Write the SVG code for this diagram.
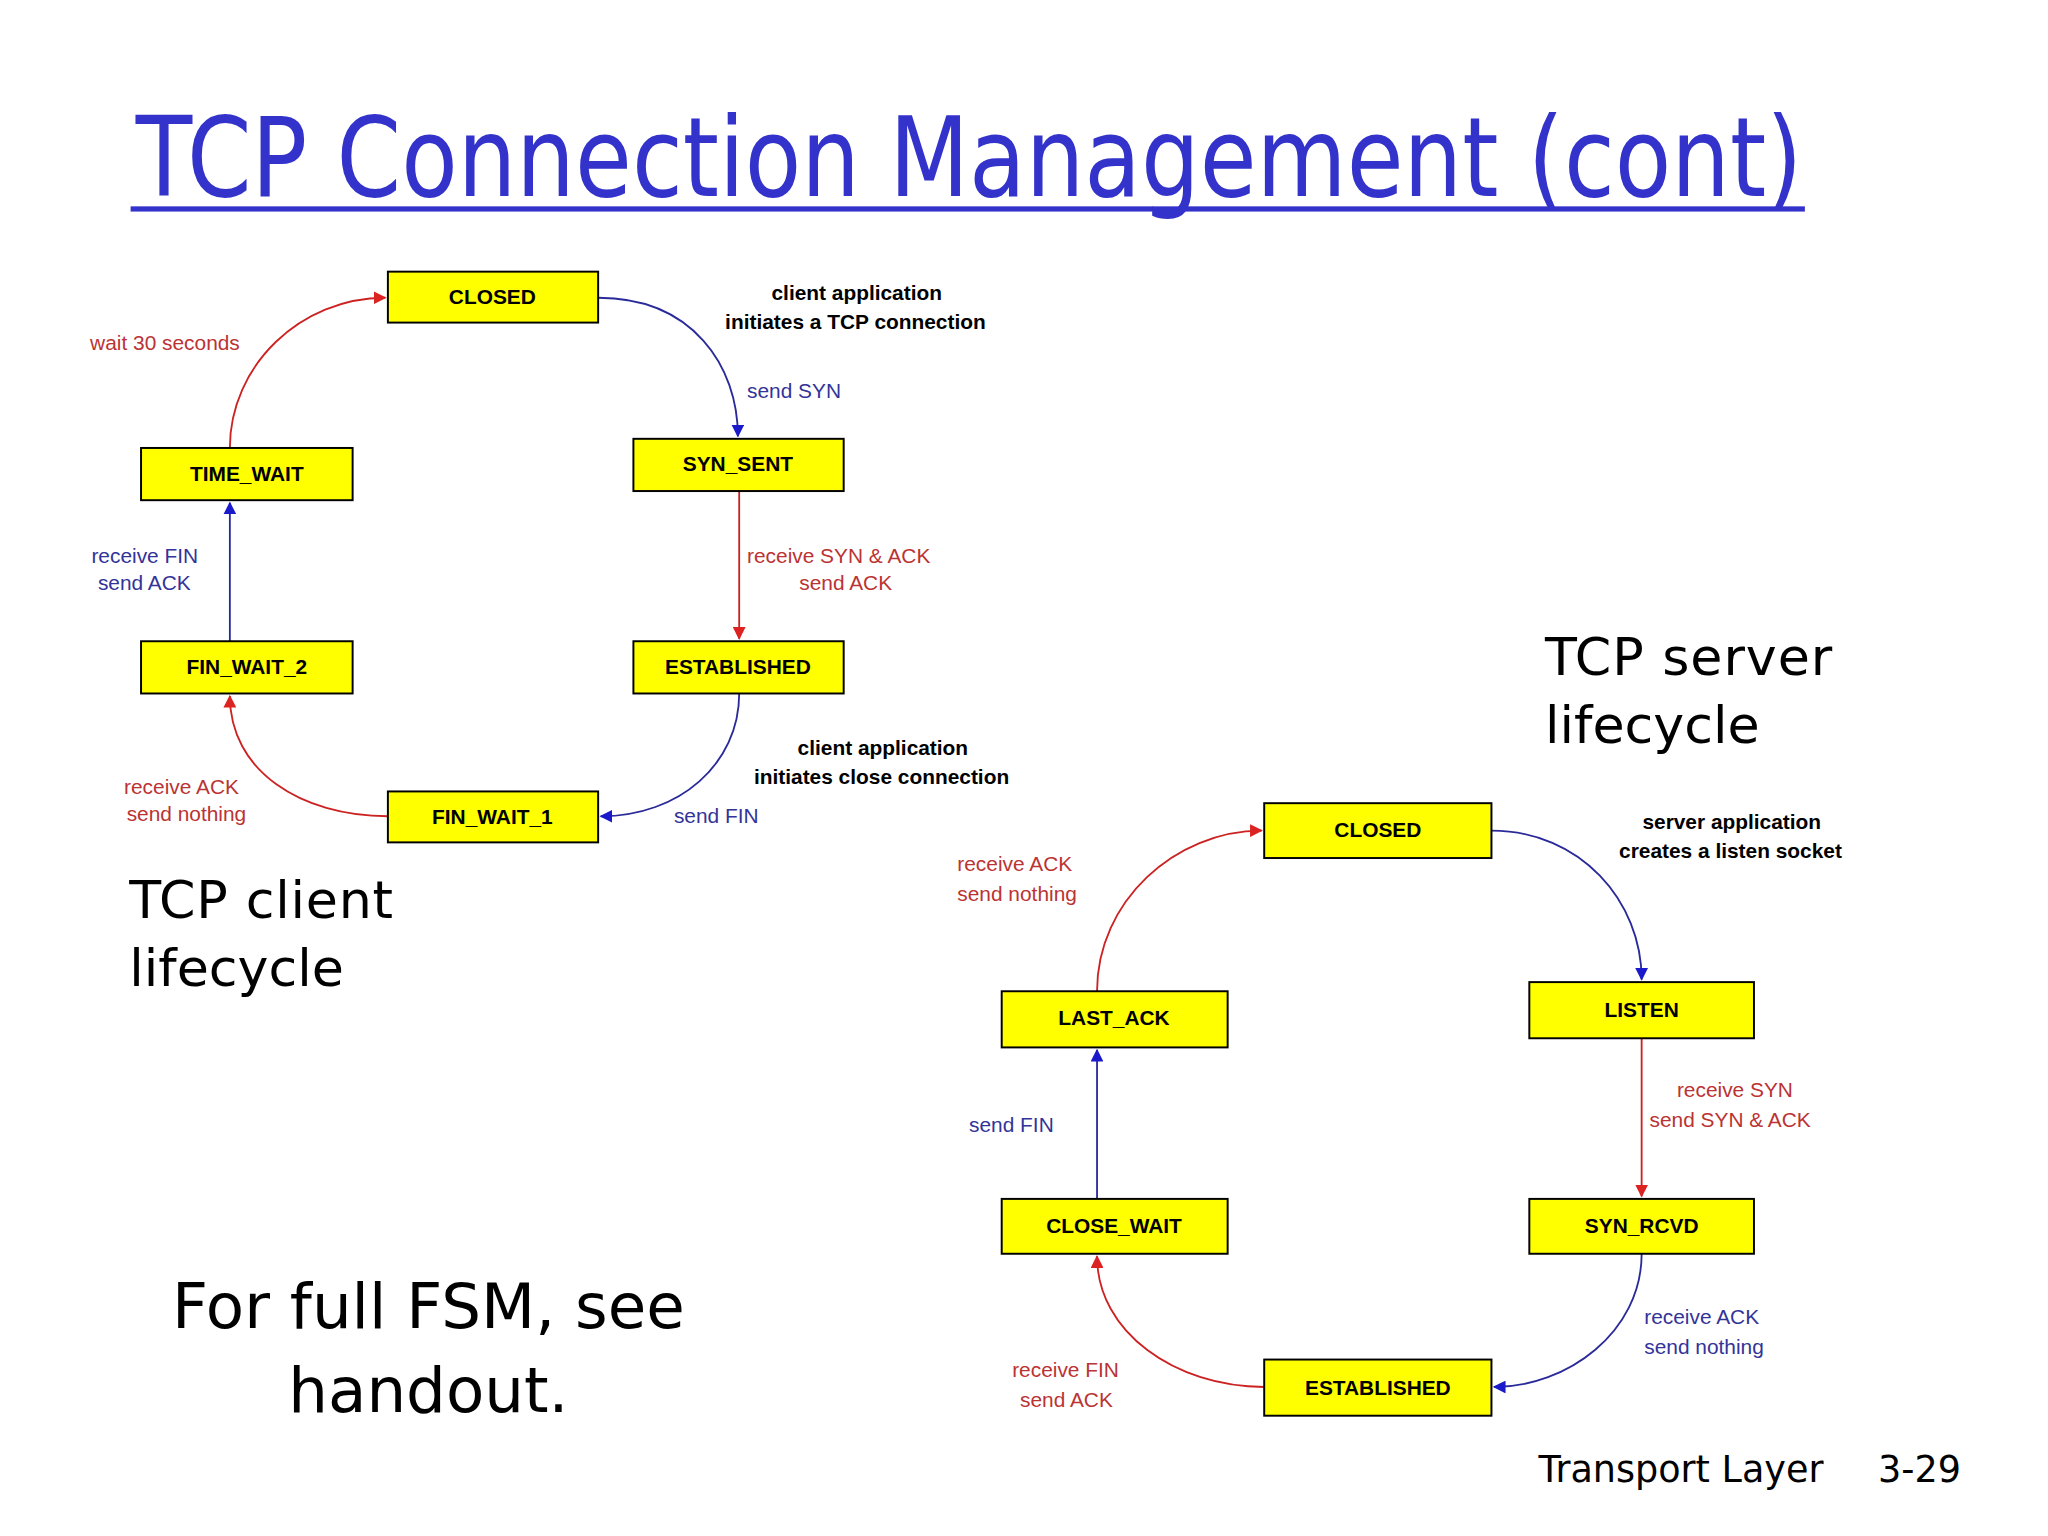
<svg xmlns="http://www.w3.org/2000/svg" width="2048" height="1536" viewBox="0 0 2048 1536">
<style>
.n rect{fill:#ffff00;stroke:#000;stroke-width:1.5}
.n text{font-family:"Liberation Sans",Arial,sans-serif;font-weight:bold;font-size:16px;text-anchor:middle;fill:#000}
.b{stroke:#2a2a9a;fill:none;stroke-width:1.4;marker-end:url(#ab)}
.r{stroke:#cc2222;fill:none;stroke-width:1.4;marker-end:url(#ar)}
.lb{font-family:"Liberation Sans",Arial,sans-serif;font-size:16px;fill:#333399}
.lr{font-family:"Liberation Sans",Arial,sans-serif;font-size:16px;fill:#bb3333}
.lk{font-family:"Liberation Sans",Arial,sans-serif;font-size:16px;font-weight:bold;fill:#000}
.big{font-family:"DejaVu Sans",sans-serif;fill:#000}
</style>
<defs>
<marker id="ab" viewBox="0 0 10 10" refX="9" refY="5" markerWidth="7" markerHeight="7" orient="auto"><path d="M0,0L10,5L0,10z" fill="#1a1acc"/></marker>
<marker id="ar" viewBox="0 0 10 10" refX="9" refY="5" markerWidth="7" markerHeight="7" orient="auto"><path d="M0,0L10,5L0,10z" fill="#dd2222"/></marker>
</defs>
<rect width="2048" height="1536" fill="#fff"/>
<g transform="scale(1.306)">
<text x="104" y="150" font-family="DejaVu Sans,sans-serif" font-size="84" fill="#3333cc" textLength="1276" lengthAdjust="spacingAndGlyphs">TCP Connection Management (cont)</text>
<rect x="100" y="158" width="1282" height="4" fill="#3333cc"/>
<g id="connectors">
<path class="b" d="M458,228 C530,228 565,280 565,334"/>
<path class="r" d="M566,376 L566,489"/>
<path class="b" d="M566,531 C566,585 520,625 460,625"/>
<path class="r" d="M297,625 C230,625 176,590 176,533"/>
<path class="b" d="M176,491 L176,385"/>
<path class="r" d="M176,343 C176,280 230,228 295,228"/>
<path class="b" d="M1142,636 C1210,636 1257,690 1257,750"/>
<path class="r" d="M1257,795 L1257,916"/>
<path class="b" d="M1257,960 C1257,1020 1200,1062 1144,1062"/>
<path class="r" d="M968,1062 C900,1062 840,1020 840,962"/>
<path class="b" d="M840,918 L840,804"/>
<path class="r" d="M840,759 C840,690 900,636 966,636"/>
</g>
<g id="c_closed" class="n"><rect x="297" y="208" width="161" height="39"/><text x="377" y="233">CLOSED</text></g>
<g id="c_synsent" class="n"><rect x="485" y="336" width="161" height="40"/><text x="565" y="361">SYN_SENT</text></g>
<g id="c_est" class="n"><rect x="485" y="491" width="161" height="40"/><text x="565" y="516">ESTABLISHED</text></g>
<g id="c_fw1" class="n"><rect x="297" y="606" width="161" height="39"/><text x="377" y="631">FIN_WAIT_1</text></g>
<g id="c_fw2" class="n"><rect x="108" y="491" width="162" height="40"/><text x="189" y="516">FIN_WAIT_2</text></g>
<g id="c_tw" class="n"><rect x="108" y="343" width="162" height="40"/><text x="189" y="368">TIME_WAIT</text></g>
<g id="s_closed" class="n"><rect x="968" y="615" width="174" height="42"/><text x="1055" y="641">CLOSED</text></g>
<g id="s_listen" class="n"><rect x="1171" y="752" width="172" height="43"/><text x="1257" y="779">LISTEN</text></g>
<g id="s_synrcvd" class="n"><rect x="1171" y="918" width="172" height="42"/><text x="1257" y="944">SYN_RCVD</text></g>
<g id="s_est" class="n"><rect x="968" y="1041" width="174" height="43"/><text x="1055" y="1068">ESTABLISHED</text></g>
<g id="s_cw" class="n"><rect x="767" y="918" width="173" height="42"/><text x="853" y="944">CLOSE_WAIT</text></g>
<g id="s_la" class="n"><rect x="767" y="759" width="173" height="43"/><text x="853" y="785">LAST_ACK</text></g>
<g id="labels">
<text class="lk" x="656" y="230" text-anchor="middle">client application</text>
<text class="lk" x="655" y="252" text-anchor="middle">initiates a TCP connection</text>
<text class="lb" x="572" y="305">send SYN</text>
<text class="lr" x="572" y="431">receive SYN &amp; ACK</text>
<text class="lr" x="612" y="452">send ACK</text>
<text class="lk" x="676" y="578" text-anchor="middle">client application</text>
<text class="lk" x="675" y="600" text-anchor="middle">initiates close connection</text>
<text class="lb" x="516" y="630">send FIN</text>
<text class="lr" x="95" y="608">receive  ACK</text>
<text class="lr" x="97" y="629">send nothing</text>
<text class="lb" x="70" y="431">receive FIN</text>
<text class="lb" x="75" y="452">send ACK</text>
<text class="lr" x="69" y="268">wait 30 seconds</text>
<text class="lk" x="1326" y="635" text-anchor="middle">server application</text>
<text class="lk" x="1325" y="657" text-anchor="middle">creates a listen socket</text>
<text class="lr" x="1284" y="840">receive SYN</text>
<text class="lr" x="1263" y="863">send SYN &amp; ACK</text>
<text class="lb" x="1259" y="1014">receive  ACK</text>
<text class="lb" x="1259" y="1037">send nothing</text>
<text class="lr" x="775" y="1054">receive FIN</text>
<text class="lr" x="781" y="1077">send ACK</text>
<text class="lb" x="742" y="867">send FIN</text>
<text class="lr" x="733" y="667">receive  ACK</text>
<text class="lr" x="733" y="690">send nothing</text>
</g>
<text class="big" x="1183" y="517" font-size="40" textLength="220">TCP server</text>
<text class="big" x="1183" y="569" font-size="40">lifecycle</text>
<text class="big" x="99" y="703" font-size="40" textLength="202">TCP client</text>
<text class="big" x="99" y="755" font-size="40">lifecycle</text>
<text class="big" x="328" y="1017" font-size="48" text-anchor="middle">For full FSM, see</text>
<text class="big" x="328" y="1081" font-size="48" text-anchor="middle">handout.</text>
<text class="big" x="1178" y="1135" font-size="28">Transport Layer</text>
<text class="big" x="1438" y="1135" font-size="28">3-29</text>
</g>
</svg>
